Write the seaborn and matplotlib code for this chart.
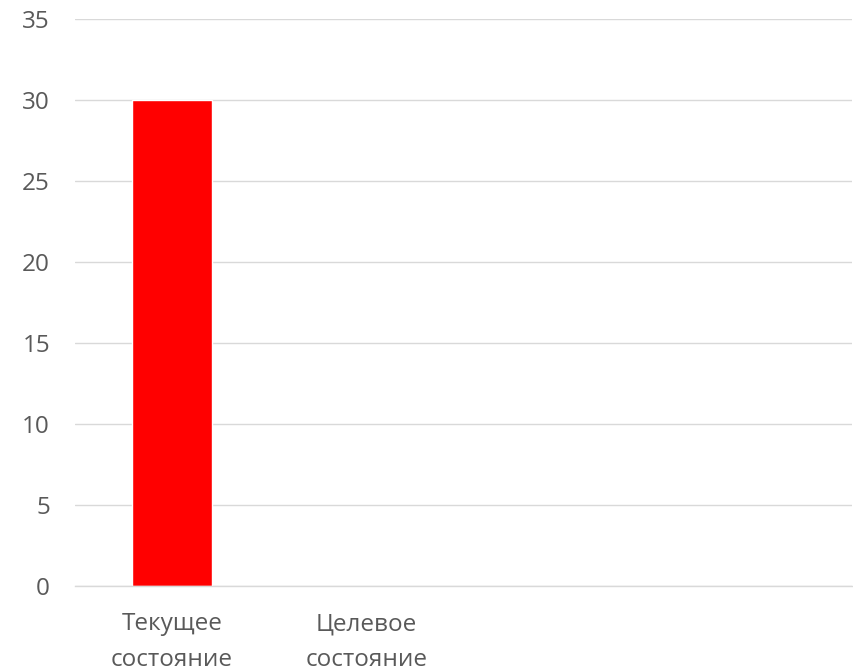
import matplotlib
matplotlib.use("Agg")
import matplotlib.pyplot as plt
import seaborn as sns
import pandas as pd

categories = ["Текущее\nсостояние", "Целевое\nсостояние", " ", "  "]
values = [30, 0, 0, 0]
yticks = [0, 5, 10, 15, 20, 25, 30, 35]

sns.set_theme(style="white")
plt.rcParams['font.family'] = ['Open Sans', 'DejaVu Sans']

df = pd.DataFrame({"cat": categories, "val": values})

fig = plt.figure(figsize=(8.54, 6.71), dpi=100)
ax = fig.add_axes([0.0878, 0.1267, 0.9099, 0.845])
sns.barplot(data=df, x="cat", y="val", order=categories, color="#FF0000",
            width=0.41, saturation=1, ax=ax)

ax.set_ylim(0, 35)
ax.set_yticks(yticks)
ax.set_xlim(-0.5, len(categories) - 0.5)
ax.yaxis.grid(True, color="#D9D9D9", linewidth=1)
ax.set_axisbelow(True)
for s in ["top", "right", "left"]:
    ax.spines[s].set_visible(False)
ax.spines["bottom"].set_color("#D9D9D9")
ax.spines["bottom"].set_linewidth(1)
ax.tick_params(axis="both", length=0, colors="#595959", labelsize=17.5)
ax.tick_params(axis="y", pad=18)
ax.tick_params(axis="x", pad=19)
for lbl in ax.get_xticklabels():
    lbl.set_linespacing(1.65)
ax.set_xlabel("")
ax.set_ylabel("")

fig.savefig("out.png", dpi=100)
